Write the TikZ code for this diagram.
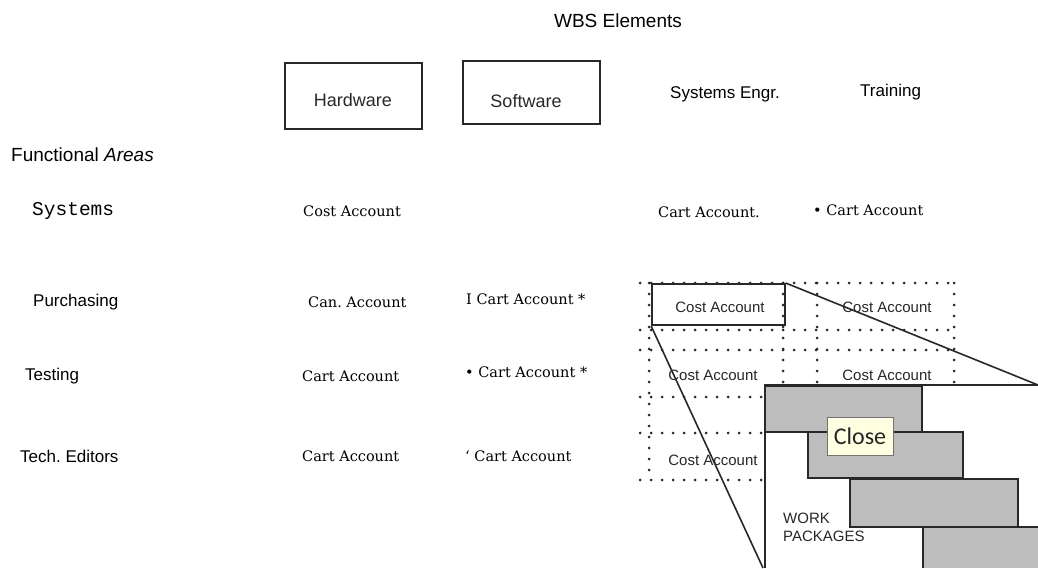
\documentclass[tikz,border=0pt]{standalone}
\usepackage{fontspec}
\setmainfont{Liberation Sans}
\newfontfamily\slab{DejaVu Serif}
\newfontfamily\monofam{Liberation Mono}
\newfontfamily\tipfam{Carlito}
\definecolor{tipbg}{RGB}{255,255,225}
\definecolor{ink}{RGB}{40,40,40}
\tikzset{
  sanslbl/.style={font=\fontsize{17}{17}\selectfont, inner sep=0pt, anchor=west},
  calbl/.style={font=\slab\fontsize{14.5}{14.5}\selectfont, inner sep=0pt, anchor=west},
  wbsbox/.style={draw=ink, line width=1.6pt, inner sep=0pt},
  wbstext/.style={font=\fontsize{18}{18}\selectfont, text=ink, inner sep=0pt},
  dotline/.style={draw=ink, line width=3pt, line cap=round, dash pattern=on 0pt off 11pt},
  gridlbl/.style={font=\fontsize{15}{15}\selectfont, text=ink, inner sep=0pt},
  solidline/.style={draw=ink, line width=1.6pt},
  barbox/.style={draw=ink, line width=1.8pt, fill=black!26},
}
\begin{document}
\begin{tikzpicture}[x=1pt,y=-1pt]
\useasboundingbox[fill=white] (0,0) rectangle (1038,568);

% headers
\node[font=\fontsize{19}{19}\selectfont, inner sep=0pt] (wbs) at (618,21) {WBS Elements};
\node[wbsbox, minimum width=137pt, minimum height=66pt] (hw) at (353.5,96) {};
\node[wbstext] (hwt) at (353,100) {Hardware};
\node[wbsbox, minimum width=137pt, minimum height=63pt] (sw) at (531.5,92.5) {};
\node[wbstext] (swt) at (526,101) {Software};
\node[sanslbl] (se) at (670,94) {Systems Engr.};
\node[sanslbl] (tr) at (860,92) {Training};
\node[font=\fontsize{19}{19}\selectfont, inner sep=0pt, anchor=west] (fa) at (11,155) {Functional \textit{Areas}};

% functional areas
\node[font=\monofam\fontsize{19.5}{19.5}\selectfont, inner sep=0pt, anchor=west] (sys) at (32,211) {Systems};
\node[sanslbl] (pur) at (33,302) {Purchasing};
\node[sanslbl] (tst) at (25,376) {Testing};
\node[sanslbl] (ted) at (20,456) {Tech.\ Editors};

% cost account labels
\node[calbl] (c11) at (303,211) {Cost Account};
\node[calbl] (c13) at (658,212) {Cart Account.};
\node[calbl] (c14) at (813,210) {• Cart Account};
\node[calbl] (c21) at (308,302) {Can.\ Account};
\node[calbl] (c22) at (466,299) {I Cart Account *};
\node[calbl] (c31) at (302,376) {Cart Account};
\node[calbl] (c32) at (465,372) {• Cart Account *};
\node[calbl] (c41) at (302,456) {Cart Account};
\node[calbl] (c42) at (465,456) {‘ Cart Account};

% dotted grid
\draw[dotline] (640,283) -- (956,283);
\draw[dotline] (640,330) -- (956,330);
\draw[dotline] (640,350) -- (956,350);
\draw[dotline] (640,397) -- (765,397);
\draw[dotline] (640,433) -- (765,433);
\draw[dotline] (640,480) -- (765,480);
\draw[dotline] (649,283) -- (649,480);
\draw[dotline] (783,283) -- (783,385);
\draw[dotline] (817,283) -- (817,385);
\draw[dotline] (954,283) -- (954,385);

\node[draw=ink, line width=1.8pt, minimum width=133pt, minimum height=41pt, inner sep=0pt] (cab) at (718.5,304.5) {};
\node[gridlbl] (g11) at (720,307) {Cost Account};
\node[gridlbl] (g12) at (887,307) {Cost Account};
\node[gridlbl] (g21) at (713,375) {Cost Account};
\node[gridlbl] (g22) at (887,375) {Cost Account};
\node[gridlbl] (g31) at (713,460) {Cost Account};

% work package panel
\coordinate (rt) at (1038,385);
\coordinate (lb) at (763,568);
\coordinate (pbl) at (765,568);
\fill[white] (765,385) rectangle (1038,568);
\draw[solidline] (pbl) -- (765,385) -- (rt);
\draw[barbox] (765,386) rectangle (922,432);
\draw[barbox] (808,432) rectangle (963,478);
\draw[barbox] (850,479) rectangle (1018,527);
\fill[black!26] (923,527) rectangle (1038,568);
\draw[solidline, line width=1.8pt] (923,568) -- (923,527) -- (1038,527);
\node[font=\fontsize{15}{18}\selectfont, text=ink, align=left, inner sep=0pt, anchor=north west] (wp) at (783,513) {WORK\\PACKAGES};

% diagonals
\draw[solidline] (cab.north east) -- (rt);
\draw[solidline] (cab.south west) -- (lb);

% tooltip
\node[draw=black!55, line width=0.8pt, fill=tipbg, minimum width=66pt, minimum height=38pt, inner sep=0pt, font=\tipfam\fontsize{24}{24}\selectfont, text=black!85] (close) at (860,436) {Close};
\end{tikzpicture}
\end{document}
